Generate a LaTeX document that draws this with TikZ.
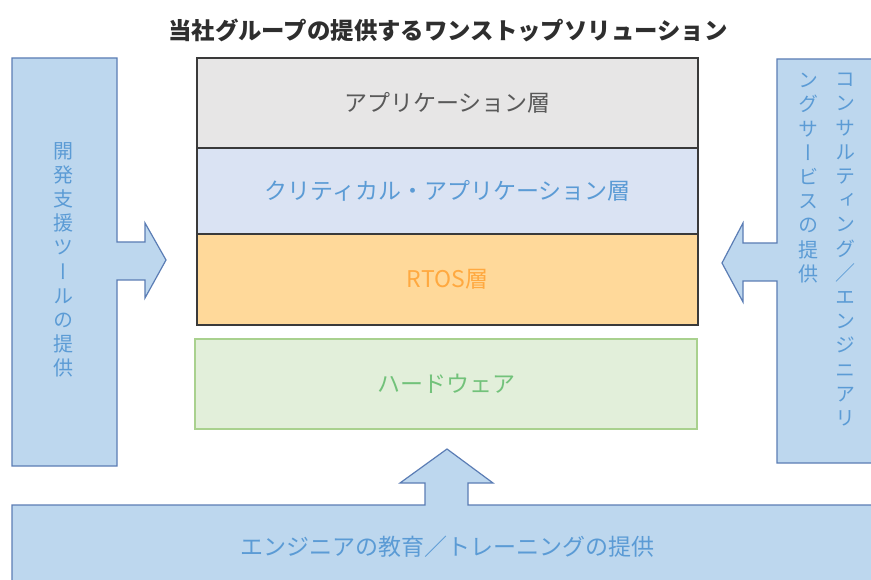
\documentclass[tikz,border=0pt]{standalone}
\usepackage{fontspec}
\setmainfont{Noto Sans CJK JP}
\newfontfamily\jpv[RawFeature=+vert]{Noto Sans CJK JP}
\definecolor{panelfill}{HTML}{BDD7EE}
\definecolor{paneldraw}{HTML}{5B7DB5}
\definecolor{paneltext}{HTML}{5B9BD5}
\definecolor{appfill}{HTML}{E7E6E6}
\definecolor{apptext}{HTML}{595959}
\definecolor{critfill}{HTML}{DAE3F3}
\definecolor{crittext}{HTML}{5B9BD5}
\definecolor{rtosfill}{HTML}{FFD99A}
\definecolor{rtostext}{HTML}{FFA940}
\definecolor{hwfill}{HTML}{E2EFDA}
\definecolor{hwdraw}{HTML}{A9D18E}
\definecolor{hwtext}{HTML}{72C27A}
\definecolor{layerdraw}{HTML}{3A3A3A}
\begin{document}
\begin{tikzpicture}[x=1pt,y=-1pt,
  layer/.style={draw=layerdraw, line width=1.6pt, inner sep=0pt, minimum width=501pt,
    font=\fontsize{23}{26}\selectfont},
  panel/.style={fill=panelfill, draw=paneldraw, line width=1.2pt, line join=miter},
  vtext/.style={text=paneltext, align=center, inner sep=0pt, anchor=north,
    font=\jpv\fontsize{20}{24.2}\selectfont},
  htext/.style={text=paneltext, inner sep=0pt, font=\fontsize{23}{26}\selectfont}]
\useasboundingbox (0,0) rectangle (871,580);
\clip (0,0) rectangle (871,580);
\fill[white] (0,0) rectangle (871,580);

% title
\node[font=\bfseries\fontsize{23.4}{26}\selectfont, text=black!82] (title) at (448,30) {当社グループの提供するワンストップソリューション};

% layers
\node[layer, fill=appfill, text=apptext, minimum height=90pt] (app) at (447.5,103) {アプリケーション層};
\node[layer, fill=critfill, text=crittext, minimum height=86pt] (crit) at (447.5,191) {クリティカル・アプリケーション層};
\node[layer, fill=rtosfill, text=rtostext, minimum height=91pt] (rtos) at (447.5,279.5) {RTOS層};
\node[layer, draw=hwdraw, line width=1.4pt, fill=hwfill, text=hwtext, minimum width=502pt, minimum height=90pt] (hw) at (446,384) {ハードウェア};

% left panel with arrow
\path[panel] (12,58) -- (117,58) -- (117,242) -- (145,242) -- (145,223) -- (166,260)
  -- (145,298) -- (145,280) -- (117,280) -- (117,466) -- (12,466) -- cycle;
\node[vtext] (ltext) at (63,142) {開\\発\\支\\援\\ツ\\ー\\ル\\の\\提\\供};

% right panel with arrow
\path[panel] (885,59) -- (777,59) -- (777,243) -- (743,243) -- (743,223) -- (722,263)
  -- (743,302) -- (743,281) -- (777,281) -- (777,463) -- (885,463);
\node[vtext] (rtext1) at (845,73) {コ\\ン\\サ\\ル\\テ\\ィ\\ン\\グ\\／\\エ\\ン\\ジ\\ニ\\ア\\リ};
\node[vtext] (rtext2) at (808,73) {ン\\グ\\サ\\ー\\ビ\\ス\\の\\提\\供};

% bottom panel with arrow
\path[panel] (12,590) -- (12,505) -- (425,505) -- (425,483) -- (400,483) -- (447,449)
  -- (493,483) -- (468,483) -- (468,505) -- (885,505) -- (885,590);
\node[htext] (btext) at (447,547) {エンジニアの教育／トレーニングの提供};
\end{tikzpicture}
\end{document}
